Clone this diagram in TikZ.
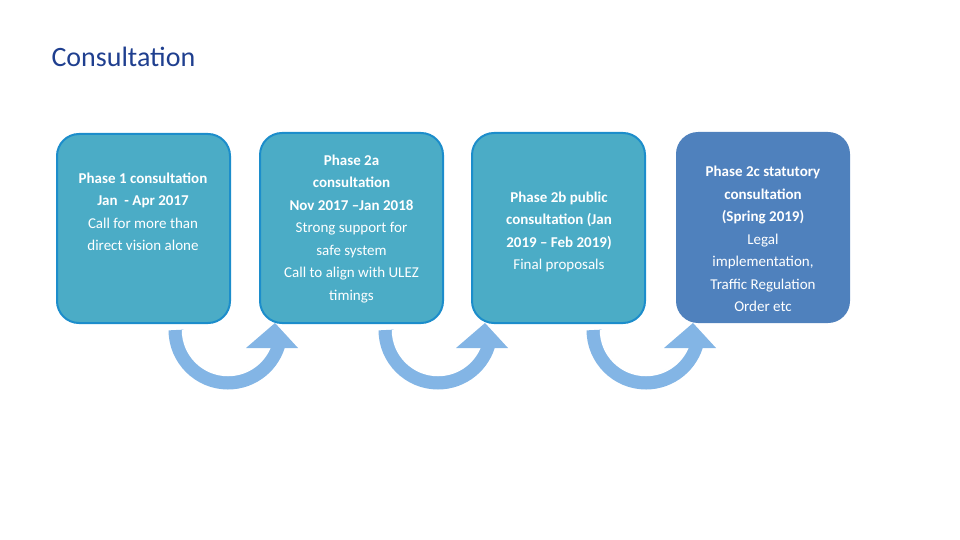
\documentclass[tikz,border=0pt]{standalone}
\usepackage{fontspec}
\setmainfont{Carlito}
\definecolor{boxc}{HTML}{4BACC6}
\definecolor{boxe}{HTML}{1C8DCB}
\definecolor{boxd}{HTML}{4F81BD}
\definecolor{arr}{HTML}{83B5E5}
\definecolor{titlec}{HTML}{1F3F8F}
\begin{document}
\begin{tikzpicture}[x=1pt,y=1pt,
  phase/.style={draw=boxe,line width=2pt,fill=boxc,rounded corners=22pt,text=white,align=center,font=\fontsize{15}{22.5}\selectfont,text width=168pt,inner sep=0pt},
  uarrow/.pic={
    \draw[arr,line width=15pt] (176,-330) arc[start angle=180,end angle=348,radius=52];
    \draw[white,line width=2.5pt] (183,-330) arc[start angle=180,end angle=345,radius=45];
    \fill[arr] (246,-348) -- (275,-323) -- (298,-348) -- cycle;
  }]
\useasboundingbox (0,0) rectangle (960,-540);
\node[anchor=west,text=titlec,font=\fontsize{28}{30}\selectfont] (title) at (48,-57) {Consultation};
\pic at (0,0) {uarrow};
\pic at (210,0) {uarrow};
\pic at (418,0) {uarrow};
\node[phase,minimum width=173pt,minimum height=189pt] (p1) at (143.5,-228.5) {};
\node[text=white,align=center,font=\fontsize{15}{22.5}\selectfont] at (143,-212) {\textbf{Phase 1 consultation}\\\textbf{Jan\ \ - Apr 2017}\\Call for more than\\direct vision alone};
\node[phase,minimum width=183pt,minimum height=190pt] (p2) at (351.5,-228) {};
\node[text=white,align=center,font=\fontsize{15}{22.5}\selectfont] at (351.5,-229) {\textbf{Phase 2a}\\\textbf{consultation}\\\textbf{Nov 2017 –Jan 2018}\\Strong support for\\safe system\\Call to align with ULEZ\\timings};
\node[phase,minimum width=173pt,minimum height=190pt] (p3) at (558.5,-228) {};
\node[text=white,align=center,font=\fontsize{15}{22.5}\selectfont] at (559,-232) {\textbf{Phase 2b public}\\\textbf{consultation (Jan}\\\textbf{2019 – Feb 2019)}\\Final proposals};
\node[phase,draw=none,fill=boxd,minimum width=174pt,minimum height=191pt] (p4) at (763,-227.5) {};
\node[text=white,align=center,font=\fontsize{15}{22.5}\selectfont] at (763,-239) {\textbf{Phase 2c statutory}\\\textbf{consultation}\\\textbf{(Spring 2019)}\\Legal\\implementation,\\Traffic Regulation\\Order etc};
\end{tikzpicture}
\end{document}
